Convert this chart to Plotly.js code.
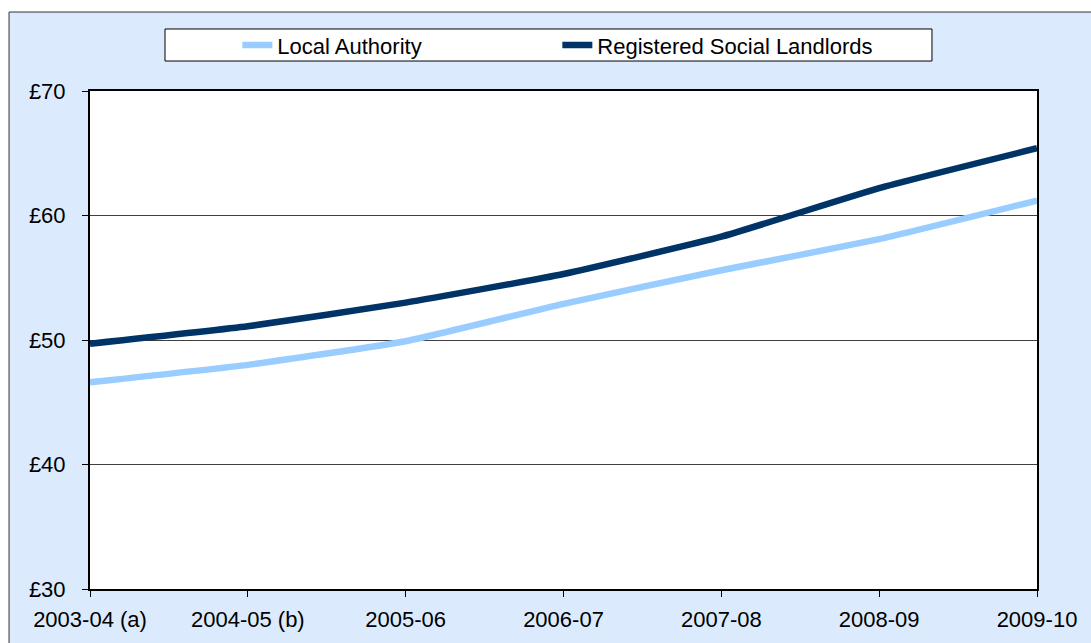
<!DOCTYPE html>
<html>
<head>
<meta charset="utf-8">
<script src="https://cdn.plot.ly/plotly-3.0.1.min.js"></script>
<style>html,body{margin:0;padding:0;background:#fff;}#chart{width:1091px;height:643px;}</style>
</head>
<body>
<div id="chart"></div>
<script>
var categories = ["2003-04 (a)", "2004-05 (b)", "2005-06", "2006-07", "2007-08", "2008-09", "2009-10"];
var localAuthority = [46.6, 48.0, 49.9, 52.9, 55.6, 58.1, 61.2];
var registeredSocialLandlords = [49.7, 51.1, 53.0, 55.3, 58.3, 62.2, 65.4];
var yTickValues = [30, 40, 50, 60, 70];
var yTickLabels = ["£30", "£40", "£50", "£60", "£70"];

var fontFamily = "Liberation Sans, Arial, sans-serif";

var traces = [
  {
    x: categories, y: localAuthority, name: "Local Authority",
    type: "scatter", mode: "lines",
    line: {color: "#99ccff", width: 6.5, shape: "spline", smoothing: 0.4}
  },
  {
    x: categories, y: registeredSocialLandlords, name: "Registered Social Landlords",
    type: "scatter", mode: "lines",
    line: {color: "#003366", width: 6.5, shape: "spline", smoothing: 0.4}
  }
];

var layout = {
  width: 1091, height: 643,
  margin: {l: 90, r: 54, t: 91, b: 54, pad: 0},
  paper_bgcolor: "#ffffff",
  plot_bgcolor: "rgba(0,0,0,0)",
  font: {family: fontFamily, size: 22, color: "#000"},
  showlegend: true,
  legend: {
    orientation: "h",
    x: 0.1556, xanchor: "left",
    y: 1.092, yanchor: "middle",
    bgcolor: "rgba(0,0,0,0)",
    borderwidth: 0,
    entrywidth: 275, entrywidthmode: "pixels",
    font: {family: fontFamily, size: 22, color: "#000"},
    itemclick: false
  },
  xaxis: {
    type: "category",
    range: [0, categories.length - 1],
    showline: true, mirror: true, linecolor: "#000", linewidth: 2,
    showgrid: false, zeroline: false,
    ticks: "outside", ticklen: 6, tickwidth: 1, tickcolor: "#000",
    ticklabelstandoff: 4,
    tickfont: {family: fontFamily, size: 22, color: "#000"}
  },
  yaxis: {
    range: [30, 70],
    tickvals: yTickValues, ticktext: yTickLabels,
    showline: true, mirror: true, linecolor: "#000", linewidth: 2,
    showgrid: true, gridcolor: "#404040", gridwidth: 1, zeroline: false,
    ticks: "outside", ticklen: 6, tickwidth: 1, tickcolor: "#000",
    ticklabelstandoff: 12,
    tickfont: {family: fontFamily, size: 22, color: "#000"}
  },
  shapes: [
    {type: "rect", xref: "paper", yref: "paper", layer: "below",
     x0: -0.0855, x1: 1.2, y0: -0.5, y1: 1.1586,
     fillcolor: "#dceafd", line: {color: "#333", width: 1}},
    {type: "rect", xref: "paper", yref: "paper", layer: "below",
     x0: 0, x1: 1, y0: 0, y1: 1,
     fillcolor: "#ffffff", line: {width: 0}},
    {type: "rect", xref: "paper", yref: "paper", layer: "below",
     x0: 0.0792, x1: 0.8891, y0: 1.0602, y1: 1.1245,
     fillcolor: "#ffffff", line: {color: "#000", width: 1}}
  ]
};

Plotly.newPlot("chart", traces, layout, {displayModeBar: false, staticPlot: true});
</script>
</body>
</html>
